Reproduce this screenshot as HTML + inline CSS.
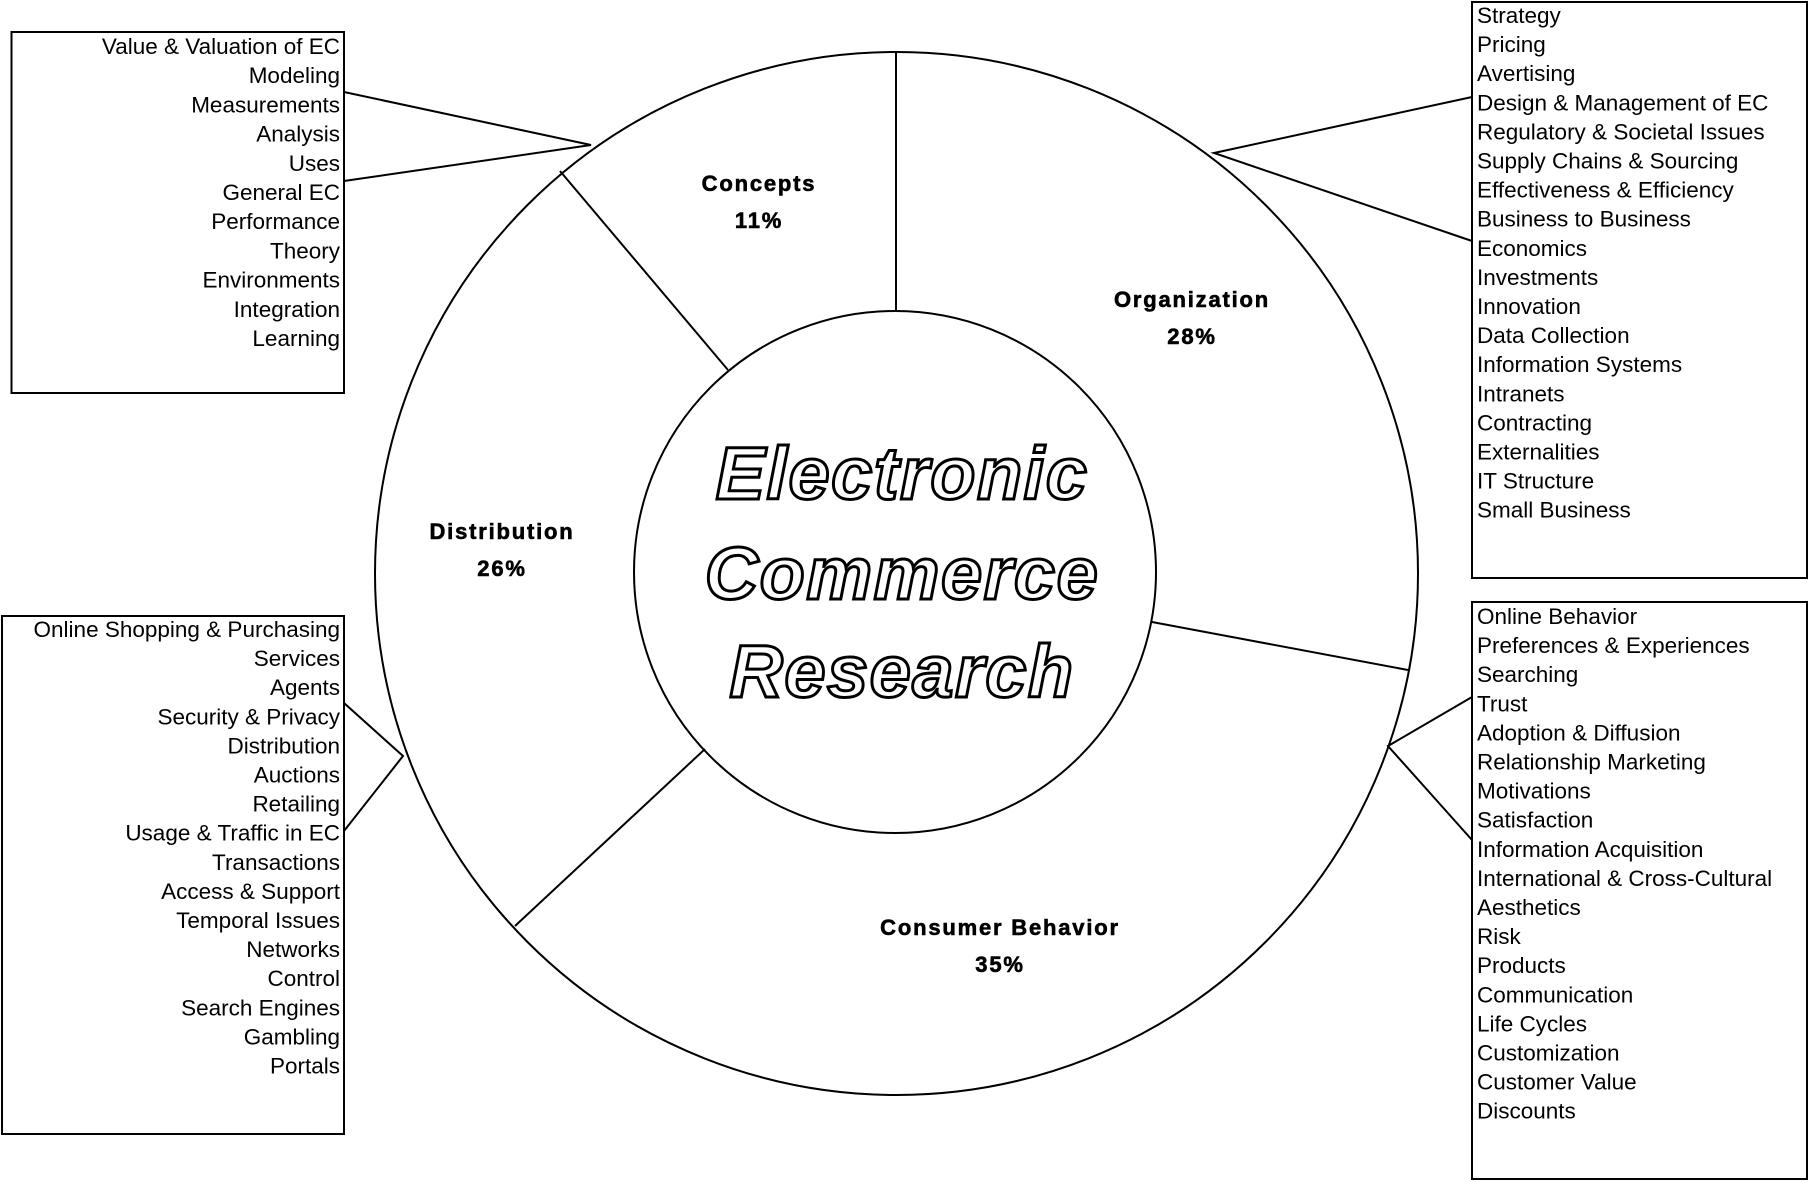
<!DOCTYPE html>
<html><head><meta charset="utf-8"><style>
html,body{margin:0;padding:0;background:#fff;}
svg{display:block;}
.l{font-family:"Liberation Sans",Arial,sans-serif;font-size:22.5px;fill:#000;}
.b{font-family:"Liberation Sans",Arial,sans-serif;font-size:22px;font-weight:bold;fill:#000;stroke:#000;stroke-width:0.6px;letter-spacing:1.8px;}
.c{font-family:"Liberation Sans",Arial,sans-serif;font-size:74px;font-weight:bold;font-style:italic;fill:#fff;stroke:#000;stroke-width:3px;letter-spacing:1.5px;}
</style></head><body>
<svg width="1809" height="1182" viewBox="0 0 1809 1182" xmlns="http://www.w3.org/2000/svg">
<g fill="none" stroke="#000" stroke-width="2">
<circle cx="896.5" cy="573.5" r="521.5"/>
<circle cx="895" cy="572" r="261"/>
<line x1="896" y1="52" x2="896" y2="311"/>
<line x1="560" y1="171" x2="728" y2="370"/>
<line x1="1152" y1="622" x2="1408" y2="670"/>
<line x1="515" y1="926" x2="705" y2="749"/>
<rect x="11.5" y="32" width="332.5" height="361"/>
<rect x="1472" y="2" width="335" height="576"/>
<rect x="2" y="616" width="342" height="518"/>
<rect x="1472" y="602" width="335" height="577"/>
<polyline points="344,92 591,145 344,181"/>
<polyline points="1472,97 1214,153 1472,241"/>
<polyline points="344,703 403,756 344,831"/>
<polyline points="1472,697 1388,746 1472,840"/>
</g>
<g class="b" text-anchor="middle">
<text x="759" y="191">Concepts</text><text x="759" y="228">11%</text>
<text x="1192" y="307">Organization</text><text x="1192" y="344">28%</text>
<text x="502" y="539">Distribution</text><text x="502" y="576">26%</text>
<text x="1000" y="935">Consumer Behavior</text><text x="1000" y="972">35%</text>
</g>
<g class="c" text-anchor="middle">
<text x="902" y="499">Electronic</text>
<text x="902" y="599">Commerce</text>
<text x="902" y="697">Research</text>
</g>
<text class="l" text-anchor="end" x="340" y="54">
<tspan x="340" dy="0">Value &amp; Valuation of EC</tspan><tspan x="340" dy="29.2">Modeling</tspan><tspan x="340" dy="29.2">Measurements</tspan><tspan x="340" dy="29.2">Analysis</tspan><tspan x="340" dy="29.2">Uses</tspan><tspan x="340" dy="29.2">General EC</tspan><tspan x="340" dy="29.2">Performance</tspan><tspan x="340" dy="29.2">Theory</tspan><tspan x="340" dy="29.2">Environments</tspan><tspan x="340" dy="29.2">Integration</tspan><tspan x="340" dy="29.2">Learning</tspan>
</text>
<text class="l" text-anchor="end" x="340" y="637">
<tspan x="340" dy="0">Online Shopping &amp; Purchasing</tspan><tspan x="340" dy="29.1">Services</tspan><tspan x="340" dy="29.1">Agents</tspan><tspan x="340" dy="29.1">Security &amp; Privacy</tspan><tspan x="340" dy="29.1">Distribution</tspan><tspan x="340" dy="29.1">Auctions</tspan><tspan x="340" dy="29.1">Retailing</tspan><tspan x="340" dy="29.1">Usage &amp; Traffic in EC</tspan><tspan x="340" dy="29.1">Transactions</tspan><tspan x="340" dy="29.1">Access &amp; Support</tspan><tspan x="340" dy="29.1">Temporal Issues</tspan><tspan x="340" dy="29.1">Networks</tspan><tspan x="340" dy="29.1">Control</tspan><tspan x="340" dy="29.1">Search Engines</tspan><tspan x="340" dy="29.1">Gambling</tspan><tspan x="340" dy="29.1">Portals</tspan>
</text>
<text class="l" x="1477" y="23">
<tspan x="1477" dy="0">Strategy</tspan><tspan x="1477" dy="29.1">Pricing</tspan><tspan x="1477" dy="29.1">Avertising</tspan><tspan x="1477" dy="29.1">Design &amp; Management of EC</tspan><tspan x="1477" dy="29.1">Regulatory &amp; Societal Issues</tspan><tspan x="1477" dy="29.1">Supply Chains &amp; Sourcing</tspan><tspan x="1477" dy="29.1">Effectiveness &amp; Efficiency</tspan><tspan x="1477" dy="29.1">Business to Business</tspan><tspan x="1477" dy="29.1">Economics</tspan><tspan x="1477" dy="29.1">Investments</tspan><tspan x="1477" dy="29.1">Innovation</tspan><tspan x="1477" dy="29.1">Data Collection</tspan><tspan x="1477" dy="29.1">Information Systems</tspan><tspan x="1477" dy="29.1">Intranets</tspan><tspan x="1477" dy="29.1">Contracting</tspan><tspan x="1477" dy="29.1">Externalities</tspan><tspan x="1477" dy="29.1">IT Structure</tspan><tspan x="1477" dy="29.1">Small Business</tspan>
</text>
<text class="l" x="1477" y="624">
<tspan x="1477" dy="0">Online Behavior</tspan><tspan x="1477" dy="29.1">Preferences &amp; Experiences</tspan><tspan x="1477" dy="29.1">Searching</tspan><tspan x="1477" dy="29.1">Trust</tspan><tspan x="1477" dy="29.1">Adoption &amp; Diffusion</tspan><tspan x="1477" dy="29.1">Relationship Marketing</tspan><tspan x="1477" dy="29.1">Motivations</tspan><tspan x="1477" dy="29.1">Satisfaction</tspan><tspan x="1477" dy="29.1">Information Acquisition</tspan><tspan x="1477" dy="29.1">International &amp; Cross-Cultural</tspan><tspan x="1477" dy="29.1">Aesthetics</tspan><tspan x="1477" dy="29.1">Risk</tspan><tspan x="1477" dy="29.1">Products</tspan><tspan x="1477" dy="29.1">Communication</tspan><tspan x="1477" dy="29.1">Life Cycles</tspan><tspan x="1477" dy="29.1">Customization</tspan><tspan x="1477" dy="29.1">Customer Value</tspan><tspan x="1477" dy="29.1">Discounts</tspan>
</text>
</svg>
</body></html>
